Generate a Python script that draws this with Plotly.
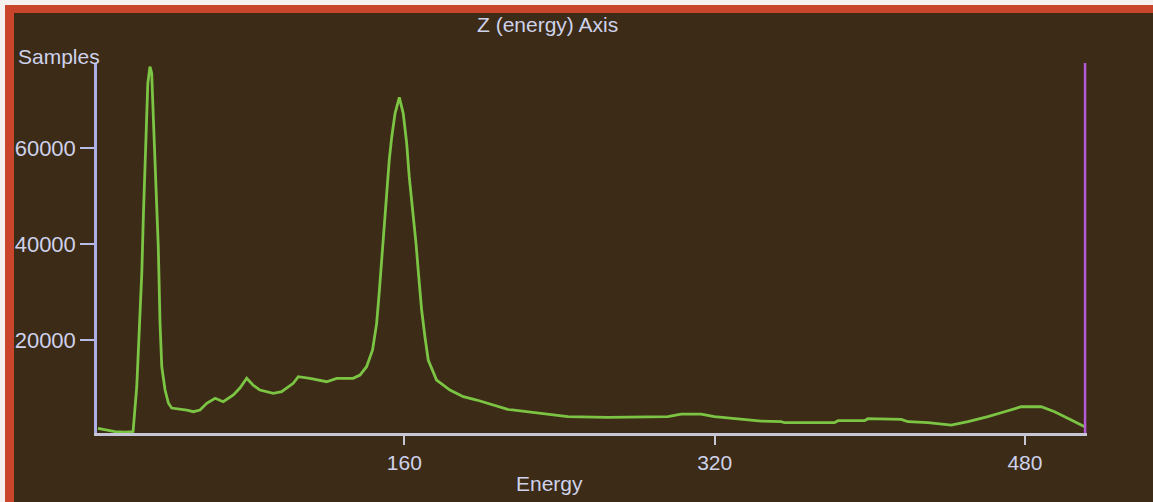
import plotly.graph_objects as go

# ---- data ----
energy = [2.0, 5.6, 10.8, 15.9, 20.1, 22.0, 23.3, 24.6, 25.4, 26.6, 27.7, 28.8, 29.7, 30.6,
          31.9, 33.1, 34.0, 34.9, 36.6, 38.3, 40.0, 47.8, 51.2, 54.6, 58.1, 62.4, 66.6,
          71.8, 75.2, 78.7, 81.9, 85.5, 92.4, 96.7, 102.7, 105.3, 111.3, 119.9, 125.1,
          133.6, 137.1, 140.5, 143.6, 145.7, 147.0, 148.2, 149.4, 150.9, 152.2, 153.5,
          155.2, 157.4, 159.4, 161.2, 162.5, 164.3, 166.0, 167.4, 168.9, 170.6, 172.3,
          176.6, 183.5, 190.4, 197.3, 213.3, 230.5, 244.3, 264.9, 282.1, 295.9, 302.7,
          313.0, 319.9, 333.6, 344.0, 354.3, 356.0, 381.8, 383.6, 397.3, 399.0, 416.2,
          419.7, 430.0, 442.0, 450.6, 460.9, 469.5, 478.1, 488.4, 495.3, 503.9, 510.8]
samples = [1575, 1325, 906, 800, 906, 10256, 22086, 33980, 45727, 62420, 73563, 77026,
           75649, 65905, 52759, 39467, 23546, 14427, 9567, 6852, 5810, 5394, 5040, 5394,
           6792, 7836, 7127, 8525, 9985, 12009, 10611, 9567, 8879, 9213, 10965, 12342,
           12009, 11299, 12009, 12009, 12697, 14429, 17913, 23478, 29738, 36692, 43639,
           50608, 57558, 62420, 67303, 70641, 67303, 61043, 54074, 47125, 40176, 33207,
           26260, 20690, 15826, 11653, 9567, 8169, 7480, 5540, 4706, 4000, 3872, 3872,
           4000, 4558, 4558, 4000, 3453, 3098, 2954, 2745, 2745, 3162, 3162, 3580, 3453,
           2954, 2745, 2265, 2954, 4000, 5038, 6080, 6080, 5038, 3307, 1909]

x_ticks = [160, 320, 480]
y_ticks = [20000, 40000, 60000]
marker_energy = 511
x_range = [1.5, 512]
y_range = [600, 77800]

title_text = "Z (energy) Axis"
x_title = "Energy"
y_title = "Samples"

# ---- layout geometry (pixels) ----
W, H = 1153, 502
L, R, T, B = 97, 1087, 63, 433
BG = "#3c2b17"
TEXT = "#ced2ea"
FONT = "Liberation Sans, Arial, sans-serif"


def px(x):
    return (x - L) / (R - L)


def py(y):
    return (B - y) / (B - T)


fig = go.Figure()
fig.add_trace(go.Scatter(x=energy, y=samples, mode="lines",
                         line=dict(color="#7cc443", width=2.8),
                         showlegend=False, hoverinfo="skip"))

# purple marker line
fig.add_shape(type="line", xref="x", yref="y domain", x0=marker_energy, x1=marker_energy,
              y0=0, y1=1, line=dict(color="#b55ad6", width=2.5))

# photo frame: white edge + red border
fig.add_shape(type="rect", xref="paper", yref="paper", x0=px(0), x1=px(W), y0=py(0), y1=py(5),
              fillcolor="#f4f1ee", line=dict(width=0), layer="below")
fig.add_shape(type="rect", xref="paper", yref="paper", x0=px(0), x1=px(5), y0=py(0), y1=py(H),
              fillcolor="#f4f1ee", line=dict(width=0), layer="below")
fig.add_shape(type="rect", xref="paper", yref="paper", x0=px(5), x1=px(W), y0=py(5), y1=py(13),
              fillcolor="#c9462d", line=dict(width=0), layer="below")
fig.add_shape(type="rect", xref="paper", yref="paper", x0=px(5), x1=px(14), y0=py(5), y1=py(H),
              fillcolor="#c9462d", line=dict(width=0), layer="below")

fig.add_annotation(text=title_text, xref="paper", yref="paper", x=px(547), y=py(25),
                   xanchor="center", yanchor="middle", showarrow=False,
                   font=dict(family=FONT, size=21, color=TEXT))
fig.add_annotation(text=y_title, xref="paper", yref="paper", x=px(16), y=py(57),
                   xanchor="left", yanchor="middle", showarrow=False,
                   font=dict(family=FONT, size=21, color=TEXT))
fig.add_annotation(text=x_title, xref="paper", yref="paper", x=px(549), y=py(483),
                   xanchor="center", yanchor="middle", showarrow=False,
                   font=dict(family=FONT, size=21, color=TEXT))

fig.update_layout(
    width=W, height=H,
    margin=dict(l=L, r=W - R, t=T, b=H - B),
    paper_bgcolor=BG, plot_bgcolor=BG,
    font=dict(family=FONT, size=21, color=TEXT),
    xaxis=dict(range=x_range, tickmode="array", tickvals=x_ticks,
               ticktext=[str(v) for v in x_ticks],
               showgrid=False, zeroline=False, showline=True, linecolor="#c6c6d6",
               linewidth=2.5, ticks="outside", ticklen=9, tickwidth=2, tickcolor="#c6c6d6",
               tickfont=dict(size=21, color=TEXT)),
    yaxis=dict(range=y_range, tickmode="array", tickvals=y_ticks,
               ticktext=[str(v) for v in y_ticks],
               showgrid=False, zeroline=False, showline=True, linecolor="#aab0e6",
               linewidth=2.5, ticks="outside", ticklen=14, tickwidth=2, tickcolor="#b8bce6",
               tickfont=dict(size=22, color=TEXT)),
)

fig.write_html("out.html")
